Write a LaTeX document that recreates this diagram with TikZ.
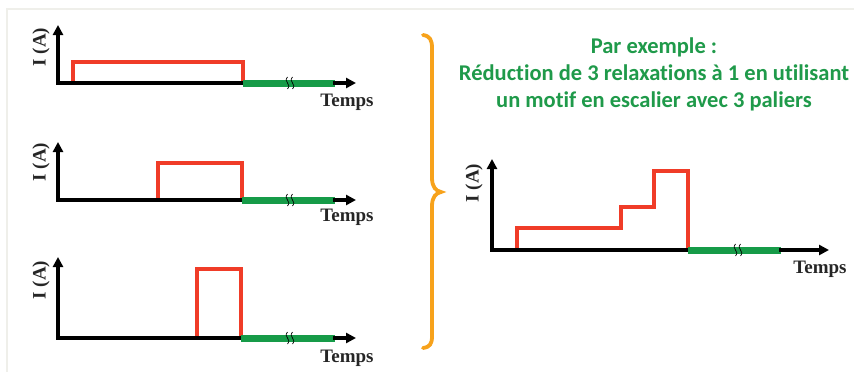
\documentclass[tikz,border=0pt]{standalone}
\usepackage{fontspec}
\setmainfont{Liberation Serif}
\newfontfamily\carlito[Ligatures=NoCommon]{Carlito}
\usetikzlibrary{arrows.meta}
\definecolor{myred}{HTML}{F03C28}
\definecolor{mygreen}{HTML}{169B48}
\definecolor{txtgreen}{HTML}{1F9A4A}
\definecolor{myorange}{HTML}{F7A21B}
\definecolor{frame}{HTML}{EFEFEA}
\tikzset{
  axis/.style={line width=3.2pt,-{Triangle[length=10pt,width=10pt]}},
  baseax/.style={line width=3.2pt},
  pulse/.style={myred,line width=3.4pt,line join=miter},
  rest/.style={mygreen,line width=7pt},
  squig/.style={black,line width=0.7pt},
  axlabel/.style={font=\bfseries\fontsize{19}{21}\selectfont,text=black!85,inner sep=0pt},
  title/.style={font=\carlito\bfseries\fontsize{22.5}{27}\selectfont,text=txtgreen,align=center,inner sep=0pt}
}
\newcommand{\squiggles}[2]{%
  \draw[squig] (#1-2.5,#2-6) .. controls (#1-7,#2-1) and (#1+2,#2+1) .. (#1-2.5,#2+6);
  \draw[squig] (#1+2.5,#2-6) .. controls (#1-2,#2-1) and (#1+7,#2+1) .. (#1+2.5,#2+6);
}
\begin{document}
\begin{tikzpicture}[x=1pt,y=-1pt]
\useasboundingbox (0,0) rectangle (854,372);
\fill[white] (0,0) rectangle (854,372);
\draw[frame,line width=1.5pt] (7,372) -- (7,9) -- (854,9);

% ---- graph 1
\coordinate (o1) at (58,83);
\coordinate (y1) at (58,25);
\coordinate (x1) at (356,83);
\draw[pulse] (73,83) -- (73,62) -- (243,62) -- (243,83);
\draw[axis] (o1) -- (y1);
\draw[baseax] (56.4,83) -- (244,83);
\draw[rest] (243,83) -- (335,83);
\draw[axis] (333,83) -- (x1);
\squiggles{290}{83}
\node[axlabel,rotate=90] (l1) at (41,47) {I (A)};
\node[axlabel] (t1) at (347,102) {Temps};

% ---- graph 2
\coordinate (o2) at (58,200);
\coordinate (y2) at (58,142);
\coordinate (x2) at (356,200);
\draw[pulse] (158,200) -- (158,163) -- (242,163) -- (242,200);
\draw[axis] (o2) -- (y2);
\draw[baseax] (56.4,200) -- (244,200);
\draw[rest] (242,200) -- (335,200);
\draw[axis] (333,200) -- (x2);
\squiggles{290}{200}
\node[axlabel,rotate=90] (l2) at (41,162) {I (A)};
\node[axlabel] (t2) at (347,217) {Temps};

% ---- graph 3
\coordinate (o3) at (58,338);
\coordinate (y3) at (58,257);
\coordinate (x3) at (356,338);
\draw[pulse] (197,338) -- (197,269) -- (241,269) -- (241,338);
\draw[axis] (o3) -- (y3);
\draw[baseax] (56.4,338) -- (243,338);
\draw[rest] (241,338) -- (335,338);
\draw[axis] (333,338) -- (x3);
\squiggles{290}{338}
\node[axlabel,rotate=90] (l3) at (41,280) {I (A)};
\node[axlabel] (t3) at (347,358) {Temps};

% ---- brace
\draw[myorange,line width=3.8pt,line cap=round]
  (423,35) .. controls (430,36) and (432,40) .. (432,48)
  -- (432,178) .. controls (432,187) and (436,191) .. (441,192)
  .. controls (436,193) and (432,197) .. (432,206)
  -- (432,336) .. controls (432,344) and (430,347) .. (423,348);

% ---- title
\node[title] (ttl) at (654,74) {Par exemple :\\Réduction de 3 relaxations à 1 en utilisant\\un motif en escalier avec 3 paliers};

% ---- right graph
\coordinate (o4) at (492,250);
\coordinate (y4) at (492,159);
\coordinate (x4) at (829,250);
\draw[pulse] (517,250) -- (517,228) -- (621,228) -- (621,207) -- (654,207) -- (654,171) -- (688,171) -- (688,250);
\draw[axis] (o4) -- (y4);
\draw[baseax] (490.4,250) -- (690,250);
\draw[rest] (688,250) -- (781,250);
\draw[axis] (779,250) -- (x4);
\squiggles{738}{250}
\node[axlabel,rotate=90] (l4) at (474,183) {I (A)};
\node[axlabel] (t4) at (820,269) {Temps};
\end{tikzpicture}
\end{document}
